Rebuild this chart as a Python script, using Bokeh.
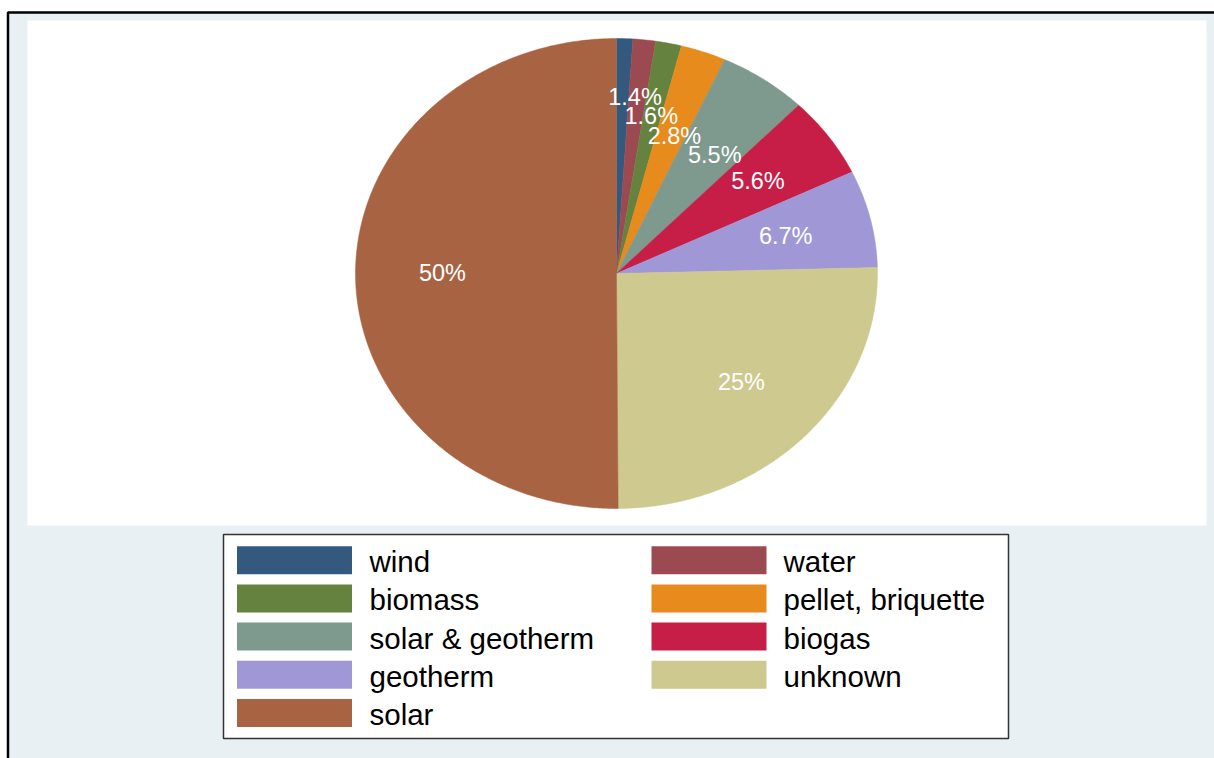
import numpy as np
from bokeh.plotting import figure
from bokeh.models import Range1d, ColumnDataSource
from bokeh.core.properties import value
from bokeh.embed import file_html
from bokeh.resources import INLINE

# ---------------- data ----------------
categories = ["wind", "water", "biomass", "pellet, briquette", "solar & geotherm",
              "biogas", "geotherm", "unknown", "solar"]
shares = [1.0, 1.4, 1.6, 2.8, 5.5, 5.6, 6.7, 25.3, 50.1]
show_label = [False, True, True, True, True, True, True, True, True]
colors = ["#335A7E", "#9B4A51", "#66823F", "#E68B1C", "#7E998D",
          "#C71E48", "#A098D6", "#CEC98E", "#A86342"]

# ---------------- layout (pixels) ----------------
W, H = 1214, 758
CX, CY, RX, RY = 616, 273, 261, 235
LABEL_R = 2.0 / 3.0
LABEL_FS = 23.5
LABEL_H = 19.5
FONT = "Liberation Sans"

p = figure(width=W, height=H, output_backend="svg", toolbar_location=None,
           x_range=Range1d(0, W), y_range=Range1d(H, 0),
           x_axis_type=None, y_axis_type=None, min_border=0,
           background_fill_color="white", border_fill_color="white")
p.outline_line_color = None
p.grid.visible = False

# graph region (light bluish) with black frame, white plot region
p.quad(left=[7.5], right=[W + 30], top=[12], bottom=[H + 30],
       fill_color="#E8F0F3", line_color="black", line_width=2.5)
p.quad(left=[27], right=[1206], top=[20], bottom=[525],
       fill_color="white", line_color=None)

# ---------------- pie slices ----------------
vals = np.array(shares, dtype=float)
frac = vals / vals.sum()
ends = np.cumsum(frac) * 2 * np.pi
starts = ends - frac * 2 * np.pi

xs, ys = [], []
for s, e in zip(starts, ends):
    t = np.linspace(s, e, max(8, int((e - s) * 120)))
    xs.append([CX] + list(CX + RX * np.sin(t)) + [CX])
    ys.append([CY] + list(CY - RY * np.cos(t)) + [CY])
p.patches(xs="xs", ys="ys", fill_color="color", line_color="color", line_width=0.5,
          source=ColumnDataSource(dict(xs=xs, ys=ys, color=colors)))

# ---------------- labels with vertical de-overlap ----------------
mids = (starts + ends) / 2
lx = CX + LABEL_R * RX * np.sin(mids)
ly = CY - LABEL_R * RY * np.cos(mids)
texts = [f"{v:.2g}%" for v in shares]
idx = [i for i in range(len(shares)) if show_label[i]]
order = sorted(idx, key=lambda k: ly[k])
approx_w = lambda k: len(texts[k]) * 0.56 * LABEL_FS


def place(g):
    m = np.mean([ly[k] for k in g])
    n = len(g)
    return [m + (j - (n - 1) / 2) * LABEL_H for j in range(n)]


def h_overlap(g1, g2):
    return any(abs(lx[a] - lx[b]) < (approx_w(a) + approx_w(b)) / 2 for a in g1 for b in g2)


groups = []
for k in order:
    groups.append([k])
    while len(groups) > 1:
        g1, g2 = groups[-2], groups[-1]
        if place(g2)[0] - place(g1)[-1] < LABEL_H and h_overlap(g1, g2):
            groups[-2] = g1 + g2
            groups.pop()
        else:
            break

fy = dict()
for g in groups:
    for k, yy in zip(g, place(g)):
        fy[k] = yy

p.text(x=[lx[k] for k in idx], y=[fy[k] - 1 for k in idx], text=[texts[k] for k in idx],
       text_color="white", text_font=value(FONT), text_font_size=f"{LABEL_FS}px",
       text_align="center", text_baseline="middle")

# ---------------- legend ----------------
p.quad(left=[223], right=[1008], top=[534], bottom=[738],
       fill_color="white", line_color="#333333", line_width=1.5)
col_sw = [294, 708.5]
col_tx = [369, 783]
row0, row_step = 559.7, 38.2
sw_x, sw_y, tx_x = [], [], []
for i in range(len(categories)):
    r, c = divmod(i, 2)
    sw_x.append(col_sw[c])
    sw_y.append(row0 + r * row_step)
    tx_x.append(col_tx[c])
p.rect(x=sw_x, y=sw_y, width=115, height=28, fill_color=colors, line_color=None)
p.text(x=tx_x, y=[v + 1.5 for v in sw_y], text=categories, text_color="black",
       text_font=value(FONT), text_font_size="29.5px",
       text_align="left", text_baseline="middle")

open("out.html", "w").write(file_html(p, INLINE))
